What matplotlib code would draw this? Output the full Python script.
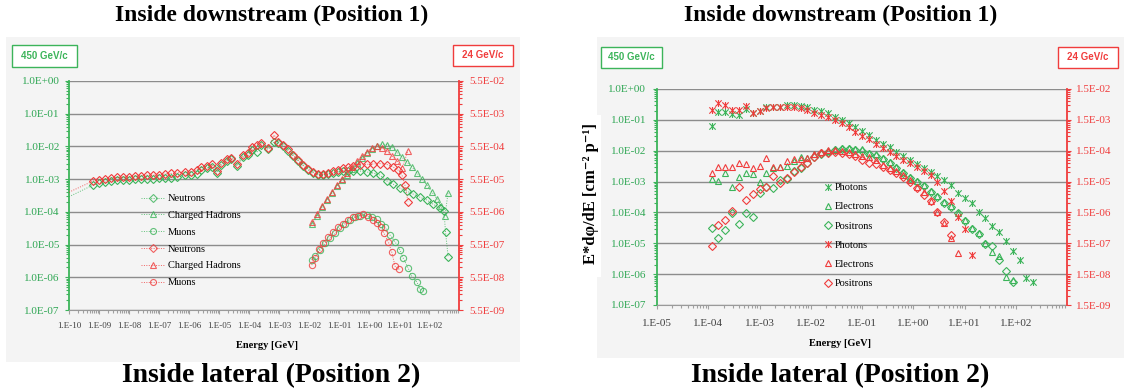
import matplotlib
matplotlib.use('Agg')
from matplotlib import pyplot as plt
from matplotlib.lines import Line2D
from matplotlib.patches import Rectangle
from matplotlib.path import Path
from matplotlib.ticker import LogLocator, FixedLocator, NullFormatter
import numpy as np

plt.rcParams['font.family'] = ['Liberation Serif', 'DejaVu Serif']

W, H = 1124, 391
GREEN = '#3cb45a'
GREEN_TXT = '#2ea653'
RED = '#f03c3c'
GRID = '#8c8c8c'

# ---------------- left chart: hadron spectra (green = 450 GeV/c, red = 24 GeV/c) ----------------
xlab_left = ['1.E-10', '1.E-09', '1.E-08', '1.E-07', '1.E-06', '1.E-05', '1.E-04',
             '1.E-03', '1.E-02', '1.E-01', '1.E+00', '1.E+01', '1.E+02']
ylab_left = ['1.0E-07', '1.0E-06', '1.0E-05', '1.0E-04', '1.0E-03', '1.0E-02', '1.0E-01', '1.0E+00']
rlab_left = ['5.5E-09', '5.5E-08', '5.5E-07', '5.5E-06', '5.5E-05', '5.5E-04', '5.5E-03', '5.5E-02']

# neutrons: first point (1e-10) only carries the line, no marker
neut_E = [1e-10, 6.3e-10, 1.0e-9, 1.6e-9, 2.5e-9, 4.0e-9, 6.3e-9, 1.0e-8, 1.6e-8, 2.5e-8,
          4.0e-8, 6.3e-8, 1.0e-7, 1.6e-7, 2.5e-7, 4.0e-7, 7.4e-7, 1.2e-6, 1.8e-6, 2.6e-6,
          3.9e-6, 5.8e-6, 8.3e-6, 1.2e-5, 1.8e-5, 2.6e-5, 3.9e-5, 6.5e-5, 9.5e-5, 1.3e-4,
          1.9e-4, 2.6e-4, 4.4e-4, 6.9e-4, 9.5e-4, 1.4e-3, 2.0e-3, 3.0e-3, 4.4e-3, 6.5e-3,
          9.5e-3, 1.4e-2, 2.0e-2, 3.0e-2, 4.4e-2, 6.5e-2, 9.5e-2, 0.14, 0.20, 0.30,
          0.50, 0.85, 1.4, 2.3]
neut_E_g_tail = [4.0, 6.3, 10.7, 18.6, 29.5, 50, 85, 135, 234, 316, 355, 437]
neut_E_r_tail = [4.0, 6.3, 9.3, 12.6, 15.8, 20]
neut_g = [2.9e-4, 6.6e-4, 7.6e-4, 8.1e-4, 8.7e-4, 9.1e-4, 9.4e-4, 9.7e-4, 1.0e-3, 1.0e-3,
          1.04e-3, 1.04e-3, 1.08e-3, 1.08e-3, 1.12e-3, 1.16e-3, 1.33e-3, 1.33e-3, 1.48e-3, 1.9e-3,
          2.18e-3, 2.34e-3, 1.5e-3, 2.7e-3, 3.6e-3, 4.0e-3, 2.5e-3, 4.7e-3, 5.3e-3, 7.8e-3,
          6.9e-3, 1.07e-2, 8.1e-3, 1.39e-2, 1.27e-2, 1.03e-2, 7.5e-3, 5.1e-3, 3.6e-3, 2.5e-3,
          1.9e-3, 1.54e-3, 1.33e-3, 1.33e-3, 1.43e-3, 1.54e-3, 1.65e-3, 1.77e-3, 1.83e-3, 1.83e-3,
          1.77e-3, 1.65e-3, 1.54e-3, 1.33e-3,
          8.7e-4, 7.1e-4, 5.3e-4, 4.3e-4, 3.5e-4, 2.8e-4, 2.3e-4, 1.73e-4, 1.31e-4, 1.06e-4,
          2.4e-5, 4.1e-6]
neut_r = [2.2e-5, 4.8e-5, 5.2e-5, 5.5e-5, 5.9e-5, 6.2e-5, 6.4e-5, 6.6e-5, 6.8e-5, 7.1e-5,
          7.3e-5, 7.3e-5, 7.6e-5, 7.9e-5, 8.2e-5, 8.5e-5, 9.3e-5, 9.3e-5, 1.04e-4, 1.26e-4,
          1.38e-4, 1.56e-4, 9.7e-5, 1.67e-4, 2.2e-4, 2.5e-4, 1.56e-4, 3.0e-4, 3.4e-4, 5.2e-4,
          6.1e-4, 7.1e-4, 4.8e-4, 1.23e-3, 7.7e-4, 6.1e-4, 4.5e-4, 3.0e-4, 2.1e-4, 1.48e-4,
          1.1e-4, 9.1e-5, 7.9e-5, 7.9e-5, 8.6e-5, 9.7e-5, 1.04e-4, 1.18e-4, 1.26e-4, 1.38e-4,
          1.48e-4, 1.56e-4, 1.6e-4, 1.65e-4,
          1.54e-4, 1.3e-4, 1.04e-4, 7.3e-5, 3.6e-5, 1.12e-5]

had_E = [0.0126, 0.0185, 0.0271, 0.0398, 0.0585, 0.0857, 0.126, 0.185, 0.271, 0.398,
         0.585, 0.857, 1.26, 1.85, 2.71, 3.98, 5.85, 8.57, 12.6, 18.5,
         27.1, 39.8, 58.5, 85.7, 126, 185, 251, 341, 430]
had_g = [4.2e-5, 7.4e-5, 1.4e-4, 2.3e-4, 3.8e-4, 6.2e-4, 9.4e-4, 1.33e-3, 2.04e-3, 3.1e-3,
         4.4e-3, 6.3e-3, 8.3e-3, 1.03e-2, 1.18e-2, 1.14e-2, 9.6e-3, 6.7e-3, 4.7e-3, 3.3e-3,
         2.34e-3, 1.54e-3, 1.0e-3, 6.6e-4, 4.0e-4, 2.5e-4, 1.5e-4, 7.4e-5, 3.8e-4]
had_E_r = [0.0126, 0.0185, 0.0271, 0.0398, 0.0585, 0.0857, 0.126, 0.185, 0.271, 0.398,
           0.585, 0.857, 1.26, 1.85, 2.71, 3.98, 5.85, 8.57, 12.6, 20]
had_r = [2.7e-6, 4.7e-6, 8.3e-6, 1.35e-5, 2.2e-5, 3.6e-5, 5.5e-5, 8.2e-5, 1.29e-4, 2.0e-4,
         2.8e-4, 3.8e-4, 4.9e-4, 5.5e-4, 4.9e-4, 4.0e-4, 2.8e-4, 2.0e-4, 1.2e-4, 4.1e-4]

muon_E_g = [0.0123, 0.0158, 0.0233, 0.0341, 0.050, 0.0736, 0.108, 0.158, 0.233, 0.341,
            0.50, 0.838, 1.23, 1.81, 2.45, 3.41, 5.0, 7.36, 10.8, 13.9,
            20.4, 26.5, 38.9, 50.1, 64.6]
muon_g = [3.4e-6, 4.4e-6, 6.8e-6, 1.09e-5, 1.55e-5, 2.2e-5, 3.1e-5, 4.2e-5, 5.6e-5, 6.8e-5,
          7.6e-5, 8.0e-5, 7.1e-5, 5.9e-5, 4.4e-5, 3.4e-5, 1.95e-5, 1.22e-5, 6.8e-6, 3.8e-6,
          1.87e-6, 1.09e-6, 7.3e-7, 4.3e-7, 3.9e-7]
muon_E_r = [0.0123, 0.0158, 0.022, 0.030, 0.044, 0.0646, 0.0948, 0.139, 0.204, 0.30,
            0.44, 0.646, 0.948, 1.39, 1.81, 2.45, 3.16, 4.4, 5.7, 7.36, 10.2]
muon_r = [1.3e-7, 2.1e-7, 3.9e-7, 6.3e-7, 9.5e-7, 1.35e-6, 1.85e-6, 2.4e-6, 3.1e-6, 3.7e-6,
          4.2e-6, 4.6e-6, 3.9e-6, 3.1e-6, 2.6e-6, 1.85e-6, 1.21e-6, 6.7e-7, 3.3e-7, 1.21e-7, 9.6e-8]

# ---------------- right chart: electromagnetic spectra ----------------
xlab_right = ['1.E-05', '1.E-04', '1.E-03', '1.E-02', '1.E-01', '1.E+00', '1.E+01', '1.E+02']
ylab_right = ylab_left
rlab_right = ['1.5E-09', '1.5E-08', '1.5E-07', '1.5E-06', '1.5E-05', '1.5E-04', '1.5E-03', '1.5E-02']

em_E = [1.17e-4, 1.58e-4, 2.16e-4, 2.93e-4, 3.99e-4, 5.42e-4, 7.38e-4, 1.00e-3, 1.36e-3, 1.85e-3,
        2.52e-3, 3.43e-3, 4.67e-3, 6.34e-3, 8.63e-3, 1.17e-2, 1.60e-2, 2.17e-2, 2.95e-2, 4.01e-2,
        5.46e-2, 7.42e-2, 0.101, 0.137, 0.187, 0.254, 0.345, 0.469, 0.638, 0.867,
        1.18, 1.60, 2.18, 2.96, 4.04, 5.48, 7.46, 10.1, 13.8, 18.8,
        25.5, 34.7, 47.2, 64.1, 87.3, 119, 161, 219]
phot_g = [6.5e-2, 0.184, 0.184, 0.152, 0.144, 0.225, 0.171, 0.194, 0.256, 0.256,
          0.268, 0.304, 0.304, 0.282, 0.256, 0.209, 0.194, 0.164, 0.127, 0.101,
          8.2e-2, 5.8e-2, 4.4e-2, 3.2e-2, 2.24e-2, 1.66e-2, 1.30e-2, 9.4e-3, 6.8e-3, 5.0e-3,
          3.7e-3, 2.84e-3, 2.11e-3, 1.56e-3, 1.13e-3, 7.5e-4, 4.4e-4, 2.9e-4, 2.0e-4, 1.07e-4,
          6.5e-5, 3.7e-5, 2.24e-5, 1.21e-5, 5.7e-6, 2.9e-6, 7.5e-7, 5.4e-7]
phot_r = [3.1e-3, 5.4e-3, 4.6e-3, 3.1e-3, 3.1e-3, 4.2e-3, 2.5e-3, 2.9e-3, 3.6e-3, 3.8e-3,
          4.0e-3, 4.0e-3, 3.8e-3, 3.6e-3, 3.1e-3, 2.5e-3, 2.2e-3, 1.8e-3, 1.5e-3, 1.16e-3,
          8.5e-4, 6.2e-4, 4.5e-4, 3.5e-4, 2.5e-4, 1.8e-4, 1.4e-4, 1.02e-4, 7.5e-5, 5.9e-5,
          4.4e-5, 3.2e-5, 2.4e-5, 1.4e-5, 7.7e-6, 3.4e-6, 1.1e-6, 4.3e-7, 6.4e-8]
elec_g = [1.22e-3, 1.08e-3, 1.95e-3, 6.6e-4, 1.39e-3, 1.87e-3, 1.77e-3, 1.0e-3, 1.95e-3, 2.7e-3,
          2.92e-3, 3.3e-3, 4.7e-3, 6.2e-3, 5.7e-3, 7.9e-3, 9.4e-3, 1.01e-2, 1.14e-2, 1.23e-2,
          1.23e-2, 1.17e-2, 1.12e-2, 8.7e-3, 7.7e-3, 6.0e-3, 4.4e-3, 3.05e-3, 2.06e-3, 1.42e-3,
          1.05e-3, 7.8e-4, 5.1e-4, 3.4e-4, 2.25e-4, 1.64e-4, 9.9e-5, 5.8e-5, 3.2e-5, 2.14e-5,
          1.06e-5, 5.4e-6, 3.9e-6, 8.1e-7, 6.6e-7]
elec_r = [2.9e-5, 4.6e-5, 4.6e-5, 4.6e-5, 6.0e-5, 5.6e-5, 4.2e-5, 4.8e-5, 8.6e-5, 4.5e-5,
          4.4e-5, 7.0e-5, 8.1e-5, 8.1e-5, 8.6e-5, 1.18e-4, 1.4e-4, 1.6e-4, 1.6e-4, 1.48e-4,
          1.37e-4, 1.18e-4, 1.02e-4, 9.1e-5, 7.6e-5, 5.2e-5, 4.1e-5, 3.2e-5, 2.4e-5, 1.64e-5,
          9.7e-6, 7.1e-6, 3.4e-6, 1.6e-6, 6.8e-7, 2.2e-7, 7.5e-8]
posi_g = [3.1e-5, 1.47e-5, 2.6e-5, 9.9e-5, 4.3e-5, 9.5e-5, 7.0e-5, 4.2e-4, 6.7e-4, 6.1e-4,
          1.13e-3, 1.2e-3, 2.22e-3, 2.7e-3, 4.1e-3, 6.2e-3, 7.9e-3, 9.4e-3, 1.06e-2, 1.1e-2,
          1.1e-2, 1.06e-2, 9.9e-3, 7.9e-3, 6.8e-3, 5.4e-3, 4.0e-3, 2.77e-3, 1.91e-3, 1.32e-3,
          9.8e-4, 7.3e-4, 4.7e-4, 3.2e-4, 2.05e-4, 1.46e-4, 9.4e-5, 5.3e-5, 2.9e-5, 1.95e-5,
          9.6e-6, 8.3e-6, 2.9e-6, 1.22e-6, 5.5e-7]
posi_r = [1.25e-7, 6.0e-7, 8.6e-7, 1.7e-6, 9.9e-6, 3.8e-6, 6.0e-6, 8.7e-6, 1.03e-5, 2.3e-5,
          1.33e-5, 1.93e-5, 3.1e-5, 4.4e-5, 5.9e-5, 9.2e-5, 1.25e-4, 1.25e-4, 1.4e-4, 1.3e-4,
          1.18e-4, 1.02e-4, 7.6e-5, 5.9e-5, 5.7e-5, 4.4e-5, 3.6e-5, 2.9e-5, 2.1e-5, 1.47e-5,
          9.4e-6, 5.6e-6, 3.6e-6, 1.57e-6, 7.5e-7, 2.8e-7]

legend_left = ['Neutrons', 'Charged Hadrons', 'Muons']
legend_right = ['Photons', 'Electrons', 'Positrons']

# excel "star" marker: an x with a vertical bar
star = Path([(-1, -1), (1, 1), (-1, 1), (1, -1), (0, -1.1), (0, 1.1)],
            [Path.MOVETO, Path.LINETO, Path.MOVETO, Path.LINETO, Path.MOVETO, Path.LINETO])

fig = plt.figure(figsize=(W / 100, H / 100), dpi=100)


def fx(px):
    return px / W


def fy(py):
    return 1 - py / H


def rect(x0, y0, x1, y1, **kw):
    fig.add_artist(Rectangle((fx(x0), fy(y1)), (x1 - x0) / W, (y1 - y0) / H,
                             transform=fig.transFigure, **kw))


# chart backgrounds
rect(6, 37, 520, 362, fc='#f4f4f4', ec='none', zorder=-5)
rect(597, 37, 1124, 358, fc='#f4f4f4', ec='none', zorder=-5)
rect(577, 115, 601, 277, fc='white', ec='none', zorder=-4)


def make_axes(x0, x1, y0, y1):
    ax = fig.add_axes([fx(x0), fy(y1), (x1 - x0) / W, (y1 - y0) / H])
    ax.patch.set_visible(False)
    axr = ax.twinx()
    return ax, axr


def style(ax, axr, xlab, xmax, ylab, rlab, xfs, xpad, lpad, rpad):
    ax.set_xscale('log')
    ax.set_yscale('log')
    axr.set_yscale('log')
    xt = [float(s) for s in xlab]
    ax.set_xlim(xt[0], xmax)
    ax.set_xticks(xt, xlab)
    yt = [float(s) for s in ylab]
    ax.set_ylim(yt[0], yt[-1])
    ax.set_yticks(yt, ylab)
    rt = [float(s) for s in rlab]
    axr.set_ylim(rt[0], rt[-1])
    axr.set_yticks(rt, rlab)

    ax.xaxis.set_minor_locator(LogLocator(base=10, subs=np.arange(2, 10), numticks=100))
    ax.yaxis.set_minor_locator(LogLocator(base=10, subs=np.arange(2, 10), numticks=100))
    axr.yaxis.set_minor_locator(FixedLocator([v * m for v in rt[:-1] for m in range(2, 10)]))
    for a in (ax.xaxis, ax.yaxis, axr.yaxis):
        a.set_minor_formatter(NullFormatter())

    for s in ('top', 'right'):
        ax.spines[s].set_visible(False)
    for s in ('top', 'left', 'bottom'):
        axr.spines[s].set_visible(False)
    ax.spines['left'].set_color(GREEN)
    ax.spines['left'].set_linewidth(1.3)
    ax.spines['bottom'].set_color('#9a9a9a')
    axr.spines['right'].set_color(RED)
    axr.spines['right'].set_linewidth(1.3)

    ax.grid(axis='y', which='major', color=GRID, lw=1.0)
    ax.set_axisbelow(True)

    ax.tick_params(axis='y', which='both', color=GREEN, labelcolor=GREEN_TXT, labelsize=8, pad=lpad, width=0.8)
    axr.tick_params(axis='y', which='both', color=RED, labelcolor=RED, labelsize=8, pad=rpad, width=0.8)
    ax.tick_params(axis='x', which='both', color='#a0a0a0', labelcolor='#404040', labelsize=xfs, pad=xpad, width=0.8)
    for a in (ax, axr):
        a.tick_params(which='major', length=3)
        a.tick_params(which='minor', length=2)
    for lbl in ax.get_xticklabels() + ax.get_yticklabels() + axr.get_yticklabels():
        lbl.set_fontfamily('Liberation Serif')


def gev_box(x0, y0, x1, y1, label, color):
    rect(x0, y0, x1, y1, fc='white', ec=color, lw=1.0, zorder=2)
    fig.text(fx((x0 + x1) / 2), fy((y0 + y1) / 2), label, ha='center', va='center',
             fontsize=7, fontweight='bold', color=color, family='Liberation Sans', zorder=3)


# ---------- left chart ----------
axL, axLr = make_axes(69, 459, 81, 310)
style(axL, axLr, xlab_left, 1e3, ylab_left, rlab_left, 6.5, 6, 3.5, 4.2)

line_kw = dict(ls=(0, (1, 1.5)), lw=0.7, alpha=0.8)
mk_kw = dict(mfc='none', mew=0.8)

axL.plot(neut_E + neut_E_g_tail, neut_g, color=GREEN, **line_kw)
axL.plot((neut_E + neut_E_g_tail)[1:], neut_g[1:], ls='none', marker='D', ms=3.8, mec=GREEN, **mk_kw)
axL.plot(had_E, had_g, color=GREEN, marker='^', ms=4.6, mec=GREEN, **line_kw, **mk_kw)
axL.plot(muon_E_g, muon_g, color=GREEN, marker='o', ms=4.5, mec=GREEN, **line_kw, **mk_kw)

axLr.plot(neut_E + neut_E_r_tail, neut_r, color=RED, **line_kw)
axLr.plot((neut_E + neut_E_r_tail)[1:], neut_r[1:], ls='none', marker='D', ms=3.8, mec=RED, **mk_kw)
axLr.plot(had_E_r, had_r, color=RED, marker='^', ms=4.6, mec=RED, **line_kw, **mk_kw)
axLr.plot(muon_E_r, muon_r, color=RED, marker='o', ms=4.5, mec=RED, **line_kw, **mk_kw)

handles = []
for c in (GREEN, RED):
    for m, s in (('D', 3.6), ('^', 4.5), ('o', 4.3)):
        handles.append(Line2D([], [], color=c, marker=m, ms=s, mec=c, **line_kw, **mk_kw))
axLr.legend(handles, legend_left * 2, loc='upper left', bbox_to_anchor=(fx(141), fy(194)),
            bbox_transform=fig.transFigure, frameon=False, fontsize=7.5, handlelength=2.3,
            handletextpad=0.3, labelspacing=0.72, borderpad=0, borderaxespad=0)

gev_box(12, 45, 77, 67, '450 GeV/c', GREEN)
gev_box(453, 45, 513, 66, '24 GeV/c', RED)

# ---------- right chart ----------
axR, axRr = make_axes(657, 1067, 89, 305)
style(axR, axRr, xlab_right, 1e3, ylab_right, rlab_right, 8, 7, 4.9, 3.4)

axR.plot(em_E[:len(phot_g)], phot_g, ls='none', marker=star, ms=5, mec=GREEN, **mk_kw)
axR.plot(em_E[:len(elec_g)], elec_g, ls='none', marker='^', ms=4.5, mec=GREEN, **mk_kw)
axR.plot(em_E[:len(posi_g)], posi_g, ls='none', marker='D', ms=3.6, mec=GREEN, **mk_kw)
axRr.plot(em_E[:len(phot_r)], phot_r, ls='none', marker=star, ms=5, mec=RED, **mk_kw)
axRr.plot(em_E[:len(elec_r)], elec_r, ls='none', marker='^', ms=4.5, mec=RED, **mk_kw)
axRr.plot(em_E[:len(posi_r)], posi_r, ls='none', marker='D', ms=3.6, mec=RED, **mk_kw)

handles = []
for c in (GREEN, RED):
    for m, s in ((star, 5), ('^', 4.5), ('D', 3.6)):
        handles.append(Line2D([], [], ls='none', marker=m, ms=s, mec=c, **mk_kw))
axRr.legend(handles, legend_right * 2, loc='upper left', bbox_to_anchor=(fx(824), fy(183)),
            bbox_transform=fig.transFigure, frameon=False, fontsize=7.5, handlelength=0.7,
            handletextpad=0.3, labelspacing=0.95, borderpad=0, borderaxespad=0)

gev_box(601, 47, 662, 68, '450 GeV/c', GREEN)
gev_box(1058, 47, 1118, 68, '24 GeV/c', RED)

fig.text(fx(591), fy(193), 'E*dφ/dE [cm⁻² p⁻¹]', rotation=90, ha='center', va='center',
         fontsize=12, fontweight='bold')

# ---------- titles and axis captions ----------
for cx in (272, 841):
    fig.text(fx(cx), fy(15), 'Inside downstream (Position 1)', ha='center', va='center',
             fontsize=17, fontweight='bold')
    fig.text(fx(cx - 1), fy(376), 'Inside lateral (Position 2)', ha='center', va='center',
             fontsize=20, fontweight='bold')
fig.text(fx(267), fy(345), 'Energy [GeV]', ha='center', va='center', fontsize=7.5, fontweight='bold')
fig.text(fx(840), fy(344), 'Energy [GeV]', ha='center', va='center', fontsize=7.5, fontweight='bold')

fig.savefig('out.png', dpi=100)
